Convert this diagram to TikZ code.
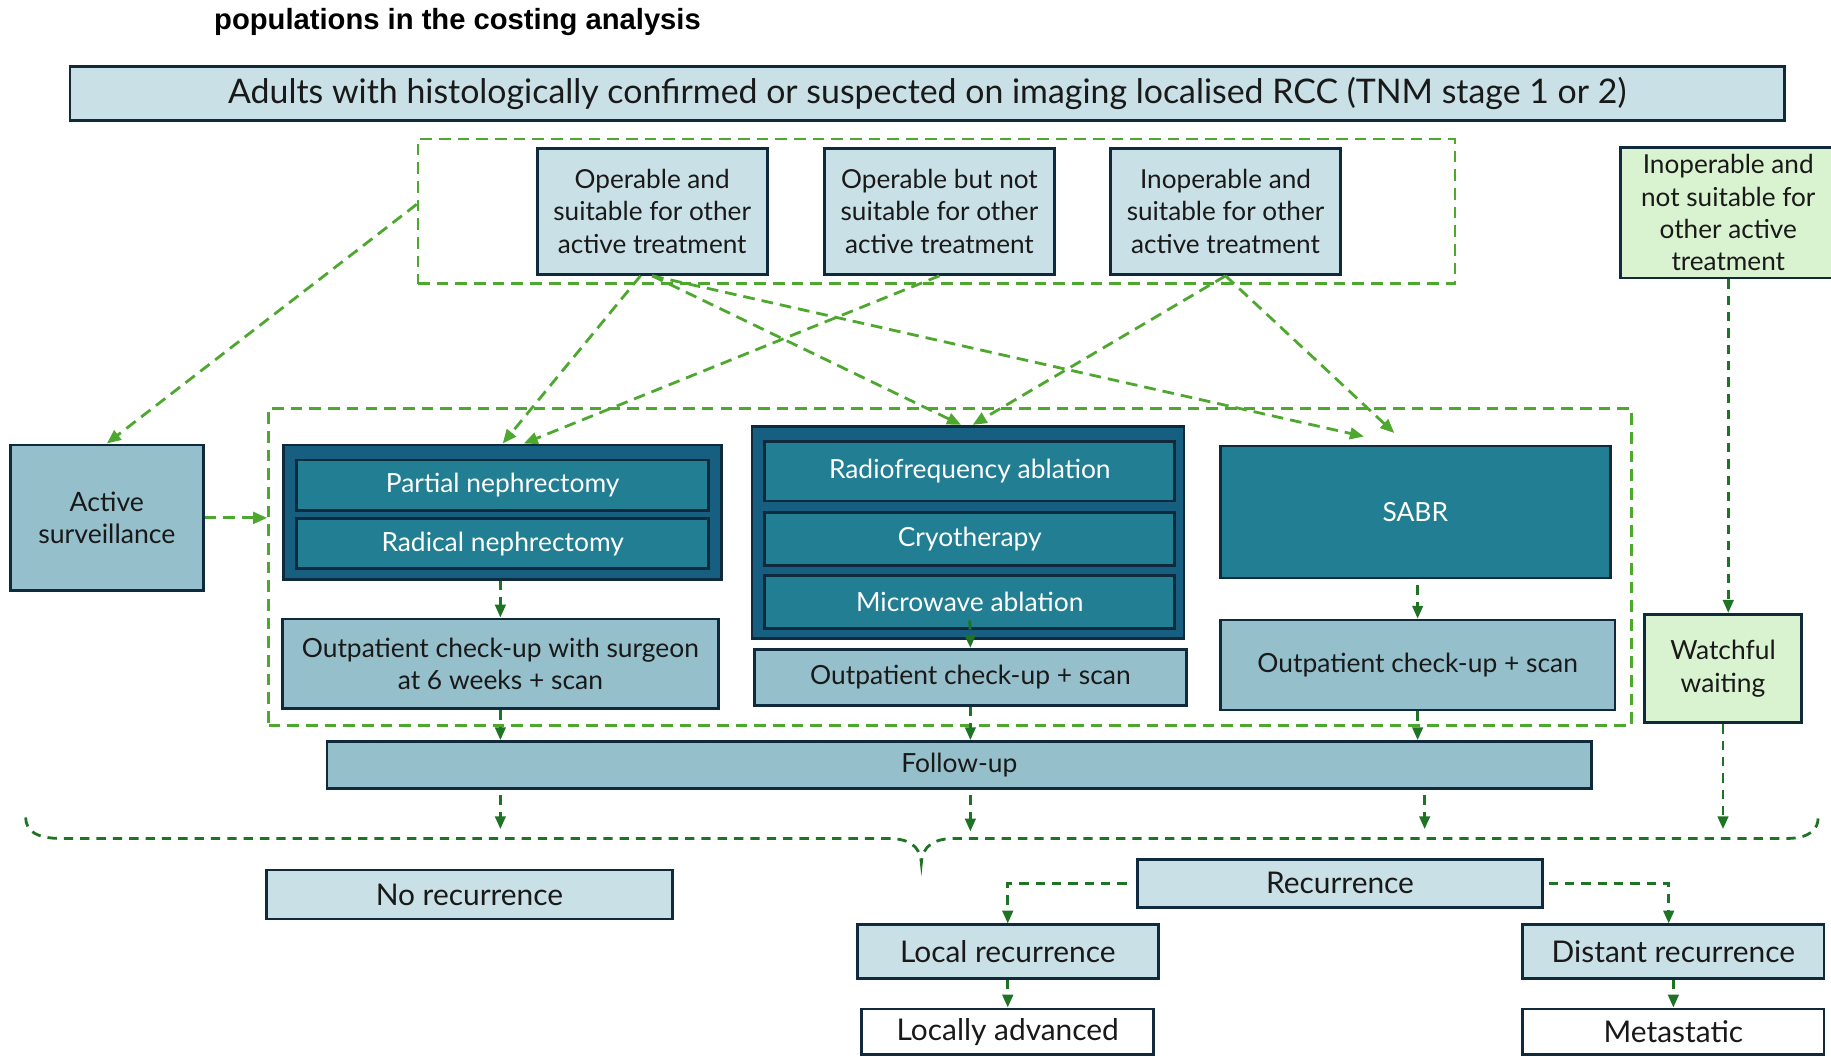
\documentclass[tikz,border=0pt]{standalone}
\usepackage{fontspec}
\setmainfont{Lato}
\newfontfamily\headfont{Liberation Sans}
\usetikzlibrary{arrows.meta}
\definecolor{paleblue}{HTML}{C9E0E6}
\definecolor{midblue}{HTML}{94BFCB}
\definecolor{deepblue}{HTML}{165F80}
\definecolor{tealbox}{HTML}{217E93}
\definecolor{navyline}{HTML}{0F2A3C}
\definecolor{palegreen}{HTML}{D9F2D0}
\definecolor{brightgreen}{HTML}{4EA72E}
\definecolor{darkgreen}{HTML}{1E7324}
\begin{document}
\begin{tikzpicture}[x=0.5pt,y=-0.5pt,
  cell/.style n args={4}{draw=navyline, line width=1.2pt, inner sep=0pt, align=center,
    text=black!90,
    minimum width={(#3-#1)*0.5pt}, minimum height={(#4-#2)*0.5pt},
    at={({(#1+#3)/2},{(#2+#4)/2})}},
  grp/.style n args={4}{draw=brightgreen, line width=1.2pt, dash pattern=on 5pt off 3pt,
    inner sep=0pt, minimum width={(#3-#1)*0.5pt}, minimum height={(#4-#2)*0.5pt},
    at={({(#1+#3)/2},{(#2+#4)/2})}},
  pale/.style={fill=paleblue},
  mid/.style={fill=midblue},
  deep/.style={fill=deepblue},
  tealc/.style={fill=tealbox, text=white},
  leafgreen/.style={fill=palegreen},
  plain/.style={fill=white},
  fsmall/.style={font=\fontsize{11.2}{13.75}\selectfont},
  fmid/.style={font=\fontsize{11.3}{13.5}\selectfont},
  fbig/.style={font=\fontsize{12.8}{14}\selectfont},
  lgarrow/.style={draw=brightgreen, line width=1.2pt, dash pattern=on 5pt off 3pt,
    -{Triangle[length=6pt,width=5pt]}},
  dgarrow/.style={draw=darkgreen, line width=1.2pt, dash pattern=on 4pt off 3pt,
    -{Triangle[length=5.5pt,width=4.5pt]}},
]
\useasboundingbox (0,0) rectangle (1568,905);

% heading
\node[anchor=west, inner sep=0pt, font=\headfont\bfseries\fontsize{12.5}{14}\selectfont]
  (pop) at (183,19) {populations in the costing analysis};

% population
\node[cell={60}{57}{1528}{103}, pale, font=\fontsize{14.5}{16}\selectfont] (main)
  {Adults with histologically confirmed or suspected on imaging localised RCC (TNM stage 1 or 2)};

% grouping frames
\node[grp={358}{119}{1246}{243}] (grpA) {};
\node[grp={230}{350}{1397}{621}] (grpB) {};

% subgroups
\node[cell={460}{127}{657}{235}, pale, fsmall] (opA) {Operable and\\suitable for other\\active treatment};
\node[cell={706}{127}{903}{235}, pale, fsmall] (opB) {Operable but not\\suitable for other\\active treatment};
\node[cell={951}{127}{1148}{235}, pale, fsmall] (opC) {Inoperable and\\suitable for other\\active treatment};
\node[cell={1388}{126}{1572}{238}, leafgreen, fsmall] (opD) {Inoperable and\\not suitable for\\other active\\treatment};

% active surveillance
\node[cell={9}{381}{174}{506}, mid, font=\fontsize{11.4}{13.5}\selectfont] (as) {Active\\surveillance};

% surgery
\node[cell={243}{381}{618}{496}, deep] (lg) {};
\node[cell={254}{394}{607}{437}, tealc, fmid] (pn) {Partial nephrectomy};
\node[cell={254}{444}{607}{487}, tealc, fmid] (rn) {Radical nephrectomy};
\node[cell={242}{530}{615}{607}, mid, fmid] (oc1) {Outpatient check-up with surgeon\\at 6 weeks + scan};

% ablation
\node[cell={644}{365}{1014}{547}, deep] (mg) {};
\node[cell={655}{378}{1006}{429}, tealc, fmid] (rf) {Radiofrequency ablation};
\node[cell={655}{439}{1006}{484}, tealc, fmid] (cr) {Cryotherapy};
\node[cell={655}{493}{1006}{538}, tealc, fmid] (mw) {Microwave ablation};
\node[cell={646}{556}{1016}{604}, mid, fmid] (oc2) {Outpatient check-up + scan};

% radiotherapy
\node[cell={1045}{382}{1379}{495}, tealc, fmid] (sabr) {SABR};
\node[cell={1045}{531}{1383}{608}, mid, fmid] (oc3) {Outpatient check-up + scan};

% watchful waiting
\node[cell={1408}{526}{1543}{619}, leafgreen, font=\fontsize{11.3}{14}\selectfont] (ww) {Watchful\\waiting};

% follow-up and outcomes
\node[cell={280}{635}{1363}{675}, mid, fmid] (fu) {Follow-up};
\node[cell={228}{745}{576}{787}, pale, fbig] (nr) {No recurrence};
\node[cell={974}{736}{1321}{777}, pale, fbig] (rec) {Recurrence};
\node[cell={734}{792}{992}{838}, pale, fbig] (lr) {Local recurrence};
\node[cell={1304}{792}{1562}{838}, pale, fbig] (dr) {Distant recurrence};
\node[cell={738}{864}{988}{903}, plain, fbig] (lad) {Locally advanced};
\node[cell={1304}{864}{1562}{903}, plain, fbig] (mt) {Metastatic};

% brace gathering the outcomes
\coordinate (brL) at (22,700);
\coordinate (brTip) at (789,739);
\coordinate (brR) at (1557,700);
\coordinate (brLine) at (789,718);
\draw[darkgreen, line width=1.2pt, dash pattern=on 4pt off 3pt]
  (brL) .. controls (22,712) and (32,718) .. (52,718) -- (760,718)
  .. controls (778,718) and (788,724) .. (brTip)
  .. controls (790,724) and (800,718) .. (818,718) -- (1530,718)
  .. controls (1550,718) and (1557,710) .. (brR);

% routes from the subgroups
\draw[lgarrow] ([yshift=3pt]grpA.west) -- (as.north);
\draw[lgarrow] (as.east) -- (as.east -| grpB.west);
\draw[lgarrow] ([xshift=-5pt]opA.south) -- (lg.north);
\draw[lgarrow] (opB.south) -- ([xshift=9pt]lg.north);
\draw[lgarrow] (opA.south) -- ([xshift=-3pt]mg.north);
\draw[lgarrow] (opA.south) -- ([xshift=-22pt,yshift=3.5pt]sabr.north);
\draw[lgarrow] (opC.south) -- ([xshift=2pt]mg.north);
\draw[lgarrow] (opC.south) -- ([xshift=-9pt,yshift=5pt]sabr.north);
\draw[dgarrow] (opD.south) -- (opD.south |- ww.north);

% treatment to check-up
\draw[dgarrow] (oc1.north |- lg.south) -- (oc1.north);
\draw[dgarrow] ([yshift=4pt]mw.south) -- (oc2.north);
\draw[dgarrow, shorten <=2.5pt] (oc3.north |- sabr.south) -- (oc3.north);

% check-up to follow-up
\draw[dgarrow] (oc1.south) -- (oc1.south |- fu.north);
\draw[dgarrow] (oc2.south) -- (oc2.south |- fu.north);
\draw[dgarrow] (oc3.south) -- (oc3.south |- fu.north);

% follow-up to outcomes
\draw[dgarrow, shorten <=2.5pt, shorten >=4pt] (oc1.south |- fu.south) -- (oc1.south |- brLine);
\draw[dgarrow, shorten <=2.5pt, shorten >=3pt] (oc2.south |- fu.south) -- (oc2.south |- brLine);
\draw[dgarrow, shorten <=2.5pt, shorten >=4pt] ([xshift=3pt]oc3.south |- fu.south) -- ([xshift=3pt]oc3.south |- brLine);
\draw[dgarrow, shorten >=4pt] (ww.south) -- (ww.south |- brLine);

% recurrence branches
\draw[dgarrow, shorten <=4pt] (rec.west) -| (lr.north);
\draw[dgarrow, shorten <=2pt] (rec.east) -| ([xshift=-2pt]dr.north);
\draw[dgarrow] (lr.south) -- (lad.north);
\draw[dgarrow] (dr.south) -- (mt.north);
\end{tikzpicture}
\end{document}
